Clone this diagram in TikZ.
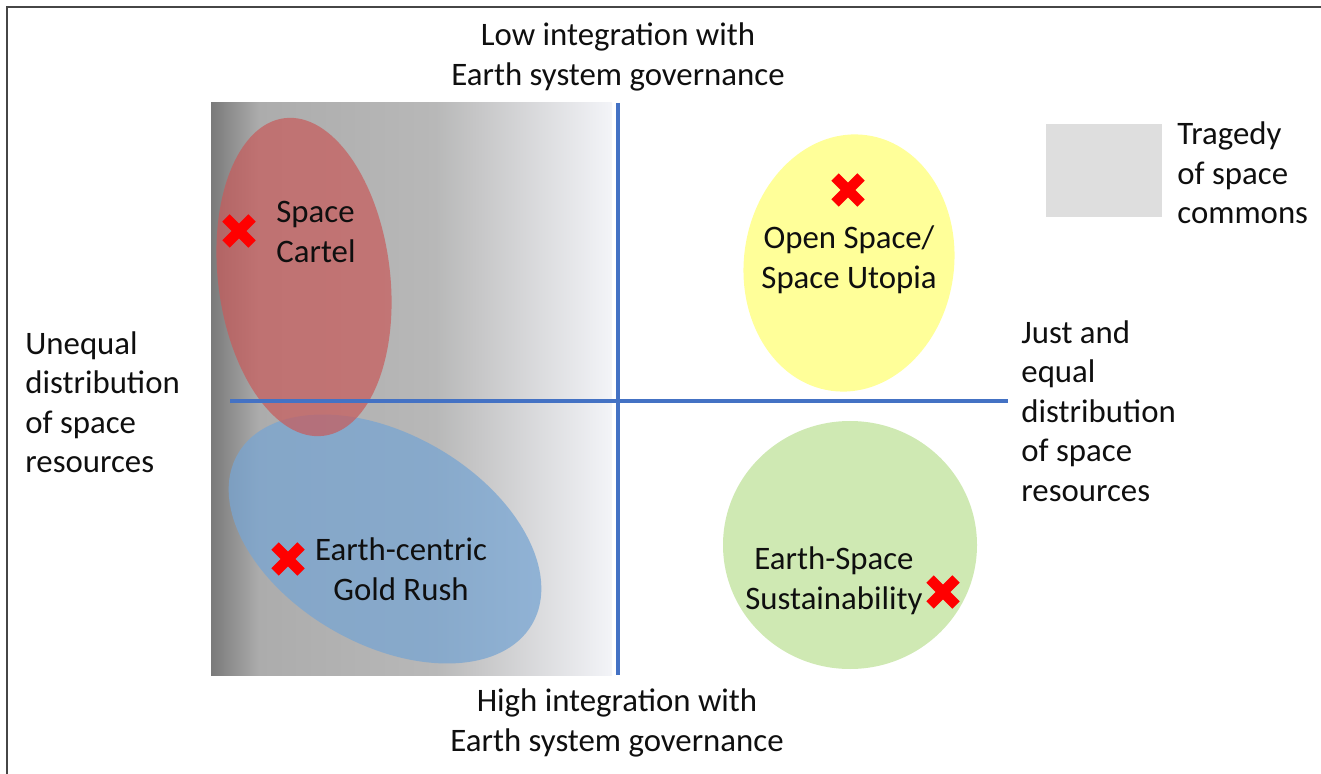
\documentclass[tikz,border=0pt]{standalone}
\usepackage{fontspec}
\setmainfont{Carlito}
\usetikzlibrary{shapes.geometric}
\definecolor{txt}{RGB}{15,15,15}
\definecolor{axisblue}{RGB}{68,114,196}
\definecolor{framegray}{RGB}{70,70,70}
\definecolor{g0}{RGB}{122,122,122}
\definecolor{g1}{RGB}{172,172,172}
\definecolor{g2}{RGB}{184,184,184}
\definecolor{g3}{RGB}{243,244,248}
\definecolor{cartel}{RGB}{200,90,90}
\definecolor{goldrush}{RGB}{120,165,210}
\definecolor{utopia}{RGB}{255,255,153}
\definecolor{sustain}{RGB}{207,233,179}
\definecolor{legendgray}{RGB}{222,222,222}
\pgfdeclarehorizontalshading{grayfade}{100bp}{color(0bp)=(g0); color(25bp)=(g0); color(31bp)=(g1); color(53bp)=(g2); color(75bp)=(g3); color(100bp)=(g3)}
\begin{document}
\begin{tikzpicture}[x=0.5pt,y=-0.5pt,
  lbl/.style={font=\fontsize{16.4pt}{19.75pt}\selectfont, text=txt, inner sep=0pt, align=center},
  lbll/.style={lbl, align=left, anchor=west},
  axisline/.style={draw=axisblue, line width=1.9pt},
  blob/.style={draw=none},
  pics/xmark/.style={code={\draw[red, line width=5.2pt] (-13,-13) -- (13,13) (-13,13) -- (13,-13);}}]
\useasboundingbox (0,0) rectangle (1321,774);
% frame
\draw[framegray, line width=1pt] (7,774) -- (7,7) -- (1321,7);
% tragedy zone
\shade[shading=grayfade] (211,103) rectangle (612,675);
% ellipses
\path[blob, fill=goldrush, fill opacity=0.75, rotate around={-30:(385,539)}] (385,539) ellipse [x radius=170, y radius=105];
\path[blob, fill=cartel, fill opacity=0.7, rotate around={7:(304,277)}] (304,277) ellipse [x radius=86, y radius=160];
\path[blob, fill=utopia, rotate around={-8:(849,263)}] (849,263) ellipse [x radius=105, y radius=129];
\path[blob, fill=sustain] (850,545) ellipse [x radius=127, y radius=124];
% axes
\coordinate (vtop) at (618,103);
\coordinate (vbot) at (618,675);
\coordinate (hleft) at (230,401);
\coordinate (hright) at (1008,401);
\draw[axisline] (vtop) -- (vbot);
\draw[axisline] (hleft) -- (hright);
% legend
\fill[legendgray] (1046,124) rectangle (1162,217);
\node[lbll] (legend) at (1177,173) {Tragedy\\of space\\commons};
% axis labels
\node[lbl] (low) at (618,57) {Low integration with\\Earth system governance};
\node[lbl] (high) at (617,723) {High integration with\\Earth system governance};
\node[lbll] (unequal) at (25,402) {Unequal\\distribution\\of space\\resources};
\node[lbll] (just) at (1021,411) {Just and\\equal\\distribution\\of space\\resources};
% scenario labels
\node[lbll] (cartel) at (276,232) {Space\\Cartel};
\node[lbl] (utopia) at (849,260) {Open Space/\\Space Utopia};
\node[lbl] (gold) at (401,569) {Earth-centric\\Gold Rush};
\node[lbl] (sust) at (834,581) {Earth-Space\\Sustainability};
% markers
\pic (m1) at (239,231) {xmark};
\pic (m2) at (848,190) {xmark};
\pic (m3) at (288,559) {xmark};
\pic (m4) at (943,592) {xmark};
\end{tikzpicture}
\end{document}
